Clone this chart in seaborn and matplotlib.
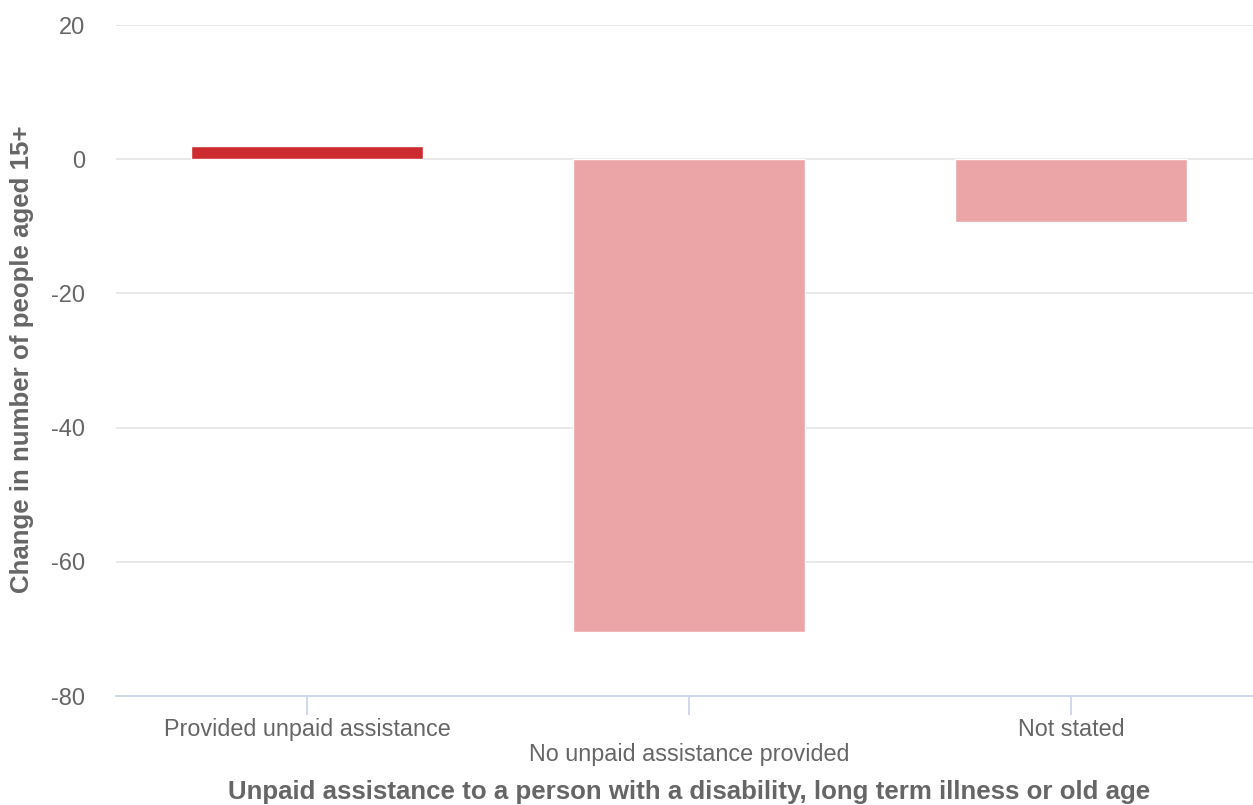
import matplotlib
matplotlib.use("Agg")
import matplotlib.pyplot as plt
import seaborn as sns
import pandas as pd

categories = ["Provided unpaid assistance", "No unpaid assistance provided", "Not stated"]
values = [2, -70.5, -9.3]
colors = ["#cc2c30", "#eba5a6", "#eba5a6"]
yticks = [20, 0, -20, -40, -60, -80]

sns.set_theme(style="white")
plt.rcParams['font.family'] = ['Liberation Sans', 'DejaVu Sans']

df = pd.DataFrame({"cat": categories, "val": values})

fig = plt.figure(figsize=(12.53, 8.05), dpi=100)
ax = fig.add_axes([116/1253, (805-696)/805, 1137/1253, 671/805])

sns.barplot(data=df, x="cat", y="val", hue="cat", palette=colors, legend=False,
            width=0.605, ax=ax, saturation=1, zorder=3)

ax.set_ylim(-80, 20)
ax.set_xlim(-0.5, -0.5 + 1137/382)
ax.set_yticks(yticks)
ax.set_yticklabels([str(t) for t in yticks], color="#666666", fontsize=17)
for t in yticks:
    if t != -80:
        ax.axhline(t, color="#e6e6e6", lw=1.3, zorder=1)

for s in ["top", "right", "left"]:
    ax.spines[s].set_visible(False)
ax.spines["bottom"].set_color("#ccd6eb")
ax.spines["bottom"].set_linewidth(1.3)
ax.tick_params(axis="y", length=0, pad=22)
ax.tick_params(axis="x", bottom=True, length=14, width=1.3, color="#ccd6eb", direction="out", pad=2)

ax.set_xticks(range(len(categories)))
ax.set_xticklabels([])
for i, c in enumerate(categories):
    yoff = -0.05 if i % 2 == 0 else -0.087
    ax.text(i, yoff, c, transform=ax.get_xaxis_transform(), ha="center", va="center",
            fontsize=16.8, color="#666666")

ax.set_xlabel("")
ax.set_ylabel("")
fig.text(689 / 1253, (805-792)/805,
         "Unpaid assistance to a person with a disability, long term illness or old age",
         ha="center", va="center", fontsize=18.6, fontweight="bold", color="#666666")
fig.text(22/1253, (805-359)/805, "Change in number of people aged 15+", rotation=90,
         ha="center", va="center", fontsize=18.6, fontweight="bold", color="#666666")

fig.savefig("out.png", dpi=100)
